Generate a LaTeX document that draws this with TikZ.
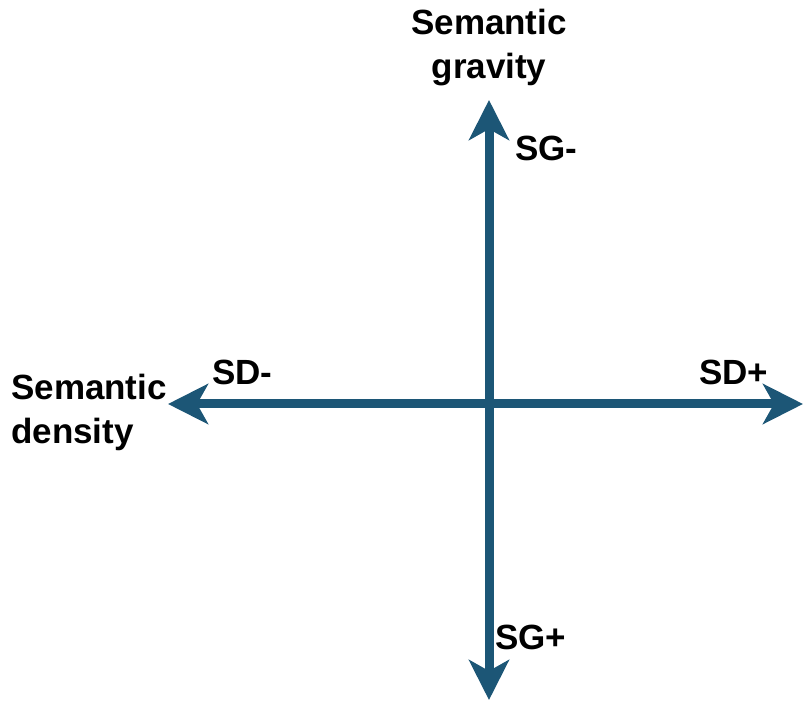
\documentclass[tikz,border=0pt]{standalone}
\usepackage{fontspec}
\setmainfont{Liberation Sans}
\usetikzlibrary{arrows.meta}
\definecolor{axisblue}{RGB}{28,86,118}
\begin{document}
\begin{tikzpicture}[x=1pt,y=1pt,
  axis/.style={draw=axisblue,line width=9pt,{Stealth[length=40pt,width=40pt,inset=11pt]}-{Stealth[length=40pt,width=40pt,inset=11pt]}},
  lbl/.style={font=\fontsize{35}{44}\selectfont\bfseries,inner sep=0pt}]
\useasboundingbox (0,0) rectangle (803,702);
\coordinate (top) at (489,602);
\coordinate (bot) at (489,2);
\coordinate (left) at (168,298);
\coordinate (right) at (803,298);
\draw[axis] (bot) -- (top);
\draw[axis] (left) -- (right);
\node[lbl,align=center] (sg) at (489,654) {Semantic\\gravity};
\node[lbl,anchor=west] (sgm) at (515,554) {SG-};
\node[lbl,anchor=west] (sgp) at (495,65) {SG+};
\node[lbl,anchor=west] (sdm) at (212,330) {SD-};
\node[lbl,anchor=west] (sdp) at (699,330) {SD+};
\node[lbl,align=left,anchor=west] (sd) at (11,290) {Semantic\\density};
\end{tikzpicture}
\end{document}
